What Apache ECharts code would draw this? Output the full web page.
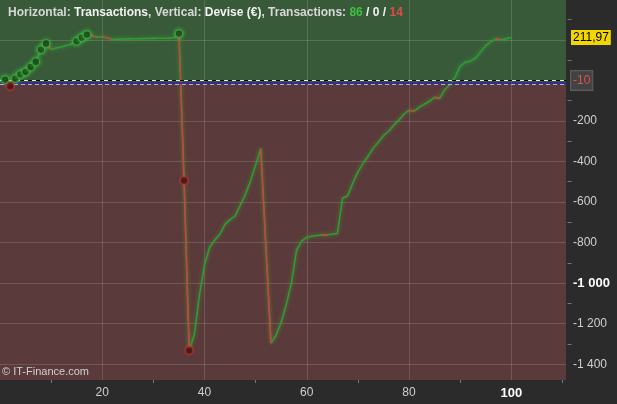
<!DOCTYPE html>
<html><head><meta charset="utf-8">
<script src="https://cdn.jsdelivr.net/npm/echarts@6/dist/echarts.min.js"></script>
<style>html,body{margin:0;padding:0;background:#2b2b2b}#c{width:617px;height:404px}</style>
</head><body><div id="c"></div>
<script>
// ---- data ----
const equity = [
  0, 4, -29, 9, 30, 42, 66, 92, 152, 182,
  153, 160, 165, 172, 180, 193, 211, 226, 220, 213,
  215, 209, 203, 203.5, 204, 204.5, 205, 205.5, 206, 206.5,
  207, 207.5, 208, 208.5, 209, 231, -494, -1332, -1255, -1060,
  -911, -823, -788, -759, -710, -687, -670, -616, -562, -497,
  -418, -336, -818, -1296, -1257, -1193, -1104, -1000, -838, -793,
  -774, -769, -765, -762, -763, -758, -755, -581, -569, -507,
  -453, -409, -374, -334, -305, -273, -251, -221, -197, -166,
  -148, -152, -132, -118, -103, -84, -88, -46, -21, 15,
  70, 89, 95, 109, 141, 171, 191, 206, 200, 205,
  211.97
];
const tradeCounts = [86, 0, 14];
const lastValue = 211.97;
const refValue = -10;
const zeroValue = 0;
const lowerRefValue = -20;
const xLabelValues = [20, 40, 60, 80, 100];
const xTickValues = [10, 30, 50, 70, 90, 110];
const yLabelValues = [-200, -400, -600, -800, -1000, -1200, -1400];
const yGridValues = [200, 0, -200, -400, -600, -800, -1000, -1200, -1400];
const yTickValues = [300, 100, -100, -300, -500, -700, -900, -1100, -1300];
const xMin = 0, xMax = 110.7, yMin = -1478, yMax = 396.5;

// ---- derived ----
const pts = equity.map((v, i) => [i, v]);
const redPts = [];
for (let i = 1; i < equity.length; i++) {
  if (equity[i] < equity[i - 1]) {
    const last = redPts[redPts.length - 1];
    if (!(last && last[0] === i - 1 && last[1] !== null)) {
      if (redPts.length) redPts.push([i - 1, null]);
      redPts.push([i - 1, equity[i - 1]]);
    }
    redPts.push([i, equity[i]]);
  }
}
const highs = [], lows = [];
let hi = equity[0], lo = equity[0];
for (let i = 1; i < equity.length; i++) {
  if (equity[i] > hi) { hi = equity[i]; highs.push([i, equity[i]]); }
  if (equity[i] < lo) { lo = equity[i]; lows.push([i, equity[i]]); }
}
function fmt(v) {
  const s = String(Math.abs(v)).replace(/\B(?=(\d{3})+(?!\d))/g, ' ');
  return (v < 0 ? '-' : '') + s;
}

const W = 617, H = 404, GL = -1.5, GR = 51, GT = 0, GB = 24;
const chart = echarts.init(document.getElementById('c'), null, {renderer: 'canvas'});
const GREEN = '#2f9c2f', RED = '#d23f3f';
const GRID_LINE = 'rgba(255,255,255,0.15)';
chart.setOption({
  backgroundColor: '#2b2b2b',
  animation: false,
  title: {
    left: 3, top: 2,
    text: '{n|Horizontal: }{b|Transactions}{n|, Vertical: }{b|Devise (€)}{n|, Transactions: }{g|' + tradeCounts[0] + '}{b| / ' + tradeCounts[1] + ' / }{r|' + tradeCounts[2] + '}',
    textStyle: {
      rich: {
        n: {color: '#d8d8d8', fontSize: 12, fontFamily: 'Liberation Sans'},
        b: {color: '#f2f2f2', fontSize: 12, fontWeight: 'bold', fontFamily: 'Liberation Sans'},
        g: {color: '#3fc23f', fontSize: 12, fontWeight: 'bold', fontFamily: 'Liberation Sans'},
        r: {color: '#e34a4a', fontSize: 12, fontWeight: 'bold', fontFamily: 'Liberation Sans'}
      }
    }
  },
  graphic: [{
    type: 'text', left: 2, top: 366, z: 100,
    style: {text: '© IT-Finance.com', fill: '#d0d0d0', font: '11px "Liberation Sans"'}
  }],
  grid: {left: GL, right: GR, top: GT, bottom: GB, containLabel: false},
  xAxis: [{
    type: 'value', min: xMin, max: xMax, position: 'bottom', z: 2,
    axisLine: {show: false},
    axisTick: {show: false, customValues: xLabelValues},
    splitLine: {show: true, lineStyle: {color: GRID_LINE, width: 1}},
    axisLabel: {
      customValues: xLabelValues, margin: 7,
      formatter: v => v === 100 ? '{k|100}' : '{n|' + v + '}',
      rich: {
        n: {color: '#cfcfcf', fontSize: 12, fontFamily: 'Liberation Sans'},
        k: {color: '#ffffff', fontSize: 13, fontWeight: 'bold', fontFamily: 'Liberation Sans'}
      }
    }
  }, {
    // minor tick marks below the plot (this axis is placed on top, shifted down to the bottom edge)
    type: 'value', min: xMin, max: xMax, position: 'top', offset: -(H - GT - GB), z: 2,
    axisLine: {show: false}, splitLine: {show: false}, axisLabel: {show: false},
    axisTick: {show: true, inside: true, customValues: xTickValues, length: 3, lineStyle: {color: '#777'}}
  }],
  yAxis: [{
    type: 'value', min: yMin, max: yMax, position: 'right', z: 2,
    axisLine: {show: false},
    axisTick: {show: false, customValues: yGridValues},
    splitLine: {show: true, lineStyle: {color: GRID_LINE, width: 1}},
    axisLabel: {
      customValues: yLabelValues, margin: 7, align: 'left',
      formatter: v => v === -1000 ? '{k|' + fmt(v) + '}' : '{n|' + fmt(v) + '}',
      rich: {
        n: {color: '#cfcfcf', fontSize: 12, fontFamily: 'Liberation Sans'},
        k: {color: '#ffffff', fontSize: 13, fontWeight: 'bold', fontFamily: 'Liberation Sans'}
      }
    }
  }, {
    // minor tick marks right of the plot (placed on the left, shifted to the right edge)
    type: 'value', min: yMin, max: yMax, position: 'left', offset: -(W - GL - GR), z: 2,
    axisLine: {show: false}, splitLine: {show: false}, axisLabel: {show: false},
    axisTick: {show: true, inside: true, customValues: yTickValues, length: 4, lineStyle: {color: '#777'}}
  }],
  series: [{
    name: 'bg', type: 'line', data: [], z: 1, silent: true,
    markArea: {
      silent: true, z: 1,
      data: [
        [{yAxis: refValue, itemStyle: {color: '#385a39', opacity: 1}}, {yAxis: yMax}],
        [{yAxis: yMin, itemStyle: {color: '#5a3a3a', opacity: 1}}, {yAxis: refValue}]
      ]
    }
  }, {
    name: 'equity', type: 'line', data: pts, showSymbol: false, symbol: 'none', z: 3,
    lineStyle: {color: GREEN, width: 1.6, shadowColor: 'rgba(70,200,70,0.55)', shadowBlur: 4}
  }, {
    name: 'loss', type: 'line', data: redPts, showSymbol: false, symbol: 'none', z: 4,
    connectNulls: false,
    lineStyle: {color: RED, width: 1.2, shadowColor: 'rgba(220,60,60,0.5)', shadowBlur: 3}
  }, {
    name: 'refs', type: 'line', data: [], z: 5, silent: true,
    markLine: {
      silent: true, symbol: ['none', 'none'], z: 5,
      data: [
        {yAxis: zeroValue, lineStyle: {color: '#000000', type: 'solid', width: 1}, label: {show: false}},
        {yAxis: zeroValue, lineStyle: {color: '#e8e8e8', type: [4, 4], width: 1}, label: {show: false}},
        {yAxis: refValue, lineStyle: {color: '#2b2ba8', type: 'solid', width: 1.5},
          label: {show: true, position: 'end', distance: 5, formatter: () => fmt(refValue),
            color: '#e05252', fontSize: 12, fontFamily: 'Liberation Sans',
            backgroundColor: 'rgba(70,70,70,0.85)', borderColor: '#5c5c5c', borderWidth: 1,
            padding: [4, 2, 3, 2], offset: [0, -2]}},
        {yAxis: lowerRefValue, lineStyle: {color: '#b4a6e6', type: [4, 3], width: 1}, label: {show: false}},
        {yAxis: lastValue, lineStyle: {color: 'rgba(0,0,0,0)', width: 0.01},
          label: {show: true, position: 'end', distance: 5, formatter: () => String(lastValue).replace('.', ','),
            color: '#000000', fontSize: 12, fontFamily: 'Liberation Sans',
            backgroundColor: '#f2d600', padding: [2, 2, 1, 2]}}
      ]
    }
  }, {
    name: 'highs', type: 'scatter', data: highs, z: 6, symbolSize: 7.5,
    itemStyle: {color: '#0e220e', borderColor: '#3fae3f', borderWidth: 1.2, shadowColor: 'rgba(80,220,80,0.8)', shadowBlur: 4}
  }, {
    name: 'lows', type: 'scatter', data: lows, z: 6, symbolSize: 7.5,
    itemStyle: {color: '#2a0c0c', borderColor: '#b03030', borderWidth: 1.2, shadowColor: 'rgba(220,60,60,0.7)', shadowBlur: 3}
  }]
});
</script>
</body></html>
